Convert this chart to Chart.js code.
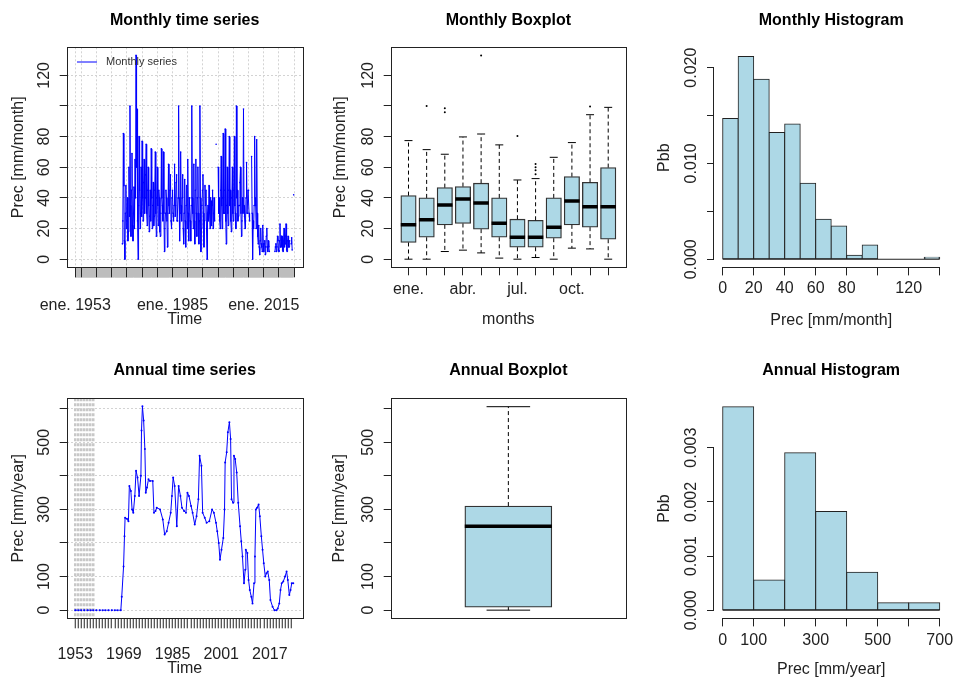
<!DOCTYPE html>
<html>
<head>
<meta charset="utf-8">
<title>Precipitation summary</title>
<script src="https://cdn.jsdelivr.net/npm/chart.js@4.4.1/dist/chart.umd.min.js"></script>
<style>
  html, body { margin: 0; padding: 0; background: #fff; }
  #page { position: relative; width: 954px; height: 677px; }
  #page canvas { position: absolute; }
</style>
</head>
<body>
<div id="page">
  <canvas id="monthlySeries" width="318" height="340" style="left:0;top:0"></canvas>
  <canvas id="monthlyBox" width="318" height="340" style="left:318px;top:0"></canvas>
  <canvas id="monthlyHist" width="318" height="340" style="left:636px;top:0"></canvas>
  <canvas id="annualSeries" width="318" height="337" style="left:0;top:340px"></canvas>
  <canvas id="annualBox" width="318" height="337" style="left:318px;top:340px"></canvas>
  <canvas id="annualHist" width="318" height="337" style="left:636px;top:340px"></canvas>
</div>
<script>
// ---------- values ----------

// monthly record, one reading every two months starting mid 1968
const monthStart = 1968.5;
const monthStep = 1 / 6;
const monthlyPrec = [
  10, 25, 82,                       // 1968 (second half)
  48, 12, 0, 30, 48, 20,            // 1969
  25, 40, 12, 18, 60, 28,
  100, 35, 15, 45, 69, 22,
  12, 30, 47, 20, 65, 40,
  133, 60, 98, 25, 0, 35,
  80, 45, 20, 30, 60, 28,
  77, 40, 25, 50, 65, 30,           // 1975
  40, 55, 75, 30, 22, 45,
  60, 35, 18, 28, 45, 25,
  72, 40, 20, 35, 50, 22,
  28, 45, 70, 30, 15, 40,
  60, 35, 22, 45, 40, 18,           // 1980
  15, 30, 72, 40, 35, 25,
  70, 30, 5, 20, 30, 45,
  40, 25, 8, 30, 62, 35,
  30, 45, 55, 25, 20, 40,
  45, 30, 25, 35, 62, 28,           // 1985
  35, 50, 55, 25, 25, 40,
  100, 40, 12, 30, 70, 35,
  25, 40, 55, 20, 10, 30,
  52, 25, 8, 35, 48, 20,
  65, 30, 12, 40, 40, 25,           // 1990
  12, 35, 100, 40, 30, 20,
  62, 25, 10, 45, 65, 30,
  15, 40, 60, 30, 10, 25,
  100, 40, 5, 20, 35, 45,
  55, 30, 8, 25, 48, 35,            // 1995
  45, 20, 0, 30, 35, 25,
  48, 30, 20, 40, 38, 22,
  35, 45, 20, 30, 40, 25,
  null, null, 75, null, null, null,
  60, 30, 40, 25, 20, 45,           // 2000
  67, 35, 20, 40, 82, 30,
  30, 45, 85, 25, 10, 35,
  60, 30, 22, 45, 80, 35,
  45, 25, 18, 40, 60, 30,
  25, 45, 80, 35, 30, 20,           // 2005
  100, 40, 45, 25, 28, 35,
  35, 50, 60, 30, 15, 25,
  40, 30, 98, 35, 28, 20,
  25, 40, 63, 30, 30, 45,
  45, 30, 25, null, null, null,     // 2010
  67, 30, 0, 25, 20, 35,
  80, 40, 35, 20, 78, 30,
  15, 10, 22, 8, 3, 12,
  20, 10, 8, 5, 22, 10,
  5, 10, 12, 3, 8, 15,              // 2015
  20, 8, 5, 12, 8, 5,
  null, null, null, null, null, null,
  null, null, null, null, 5, 8,
  10, 5, 8, 15, 12, 6,
  5, 12, 23, 8, 8, 15,              // 2020
  15, 6, 5, 12, 20, 8,
  10, 15, 23, 6, 5, 12,
  15, 8, 8, 12, null, null,
  10, 14, 6, null, null, 42         // 2024
];

const monthNames = ['ene.', 'feb.', 'mar.', 'abr.', 'may.', 'jun.', 'jul.', 'ago.', 'sep.', 'oct.', 'nov.', 'dic.'];
const boxLow  = [0, 0, 5, 5.9, 4.1, 0.7, 0, 1.1, 0, 7.2, 6.7, 0];
const boxQ1   = [10.9, 14.3, 22.4, 23.3, 19.6, 14.3, 7.8, 7.8, 13.7, 22.4, 20.9, 13];
const boxMed  = [22.4, 25.7, 35.4, 39.3, 36.7, 23.5, 14.3, 14.3, 20.9, 38, 34.3, 34.3];
const boxQ3   = [41.5, 40, 46.7, 47.4, 49.6, 40, 26.1, 25.4, 40, 53.9, 50.2, 59.8];
const boxHigh = [77.4, 71.5, 68.5, 79.8, 81.7, 74.6, 51.7, 52.6, 66.5, 76.1, 94.3, 99.1];
const boxOutliers = [[], [100], [98.5, 95.9], [], [133], [], [80.4], [55.5, 58, 60, 62.2], [], [], [99.6], []];

const monthBreaks = [0, 10, 20, 30, 40, 50, 60, 70, 80, 90, 100, 110, 120, 130, 140];
const monthDensity = [0.0147, 0.02115, 0.01878, 0.01322, 0.01412, 0.00793, 0.00417, 0.00348, 0.00042, 0.0015, 0, 0, 0, 0.00021];

const annualYears = [
  1953, 1954, 1955, 1956, 1957, 1958, 1959, 1960, 1961, 1962, 1963, 1964, 1965, 1966, 1967,
  1968.0, 1968.3, 1968.9, 1969.2, 1969.4, 1970.0, 1970.5, 1970.8, 1971.3, 1971.7,
  1972.1, 1972.6, 1973.0, 1973.5, 1974.0, 1974.6, 1974.8, 1975.1, 1975.5, 1975.9,
  1976.2, 1976.6, 1977.1, 1977.6, 1978.5, 1978.9, 1979.4, 1979.8, 1980.9, 1981.8,
  1982.4, 1983.1, 1983.7, 1984.4, 1984.8, 1985.2, 1985.7, 1986.4, 1987.0, 1987.6,
  1988.1, 1988.8, 1989.4, 1989.9, 1990.4, 1991.1, 1991.6, 1992.3, 1992.9, 1993.5,
  1993.9, 1994.5, 1994.9, 1995.6, 1996.2, 1997.1, 1998.0, 1998.6, 1999.3, 1999.7,
  2000.2, 2000.6, 2001.1, 2001.7, 2002.1, 2002.3, 2002.8, 2003.2, 2003.7, 2004.1,
  2004.4, 2004.9, 2005.2, 2005.6, 2006.1, 2006.6, 2007.2, 2007.6, 2008.0, 2008.5,
  2008.9, 2009.1, 2009.6, 2010.0, 2010.4, 2010.9, 2011.3, 2011.8, 2012.1, 2012.4,
  2012.8, 2013.3, 2013.7, 2014.2, 2014.6, 2015.0, 2015.5, 2015.9, 2016.3, 2016.8,
  2017.2, 2017.9, 2018.5, 2019.2, 2019.6, 2020.1, 2020.5, 2020.9, 2021.4, 2022.0,
  2022.5, 2022.9, 2023.4, 2023.8, 2024.2, 2024.7
];
const annualPrec = [
  0, 0, 0, 0, 0, 0, 0, 0, 0, 0, 0, 0, 0, 0, 0,
  0, 40, 130, 220, 275, 272, 265, 370, 355, 300,
  290, 340, 415, 395, 340, 400, 535, 607, 565, 480,
  350, 365, 390, 385, 385, 290, 295, 305, 300, 270,
  225, 235, 260, 290, 340, 395, 370, 250, 370, 340,
  305, 295, 290, 350, 340, 310, 290, 255, 280, 330,
  460, 430, 290, 275, 260, 265, 300, 290, 260, 235,
  200, 150, 180, 215, 300, 440, 470, 530, 560, 510,
  330, 320, 460, 450, 410, 320, 250, 205, 160, 80,
  120, 180, 170, 90, 60, 40, 20, 80, 160, 300,
  305, 315, 280, 220, 180, 140, 100, 110, 115, 90,
  30, 10, 0, 0, 5, 20, 60, 80, 85, 100,
  115, 90, 45, 60, 80, 80
];

// low whisker, Q1, median, Q3, high whisker
const annualBoxStats = [0, 9, 250, 310, 606];

const yearBreaks = [0, 100, 200, 300, 400, 500, 600, 700];
const yearDensity = [0.003755, 0.00056, 0.002907, 0.00182, 0.0007, 0.000141, 0.000141];

// tick values and which of them carry a label
const seriesXLabelYears = [1953, 1985, 2015];
const annualXLabelYears = [1953, 1969, 1985, 2001, 2017];
const monthYTicks = [0, 20, 40, 60, 80, 100, 120];
const monthYLabels = [0, 20, 40, 60, 80, 120];
const yearYTicks = [0, 100, 200, 300, 400, 500, 600];
const yearYLabels = [0, 100, 300, 500];
const monthHistXTicks = [0, 20, 40, 60, 80, 100, 120, 140];
const monthHistXLabels = [0, 20, 40, 60, 80, 120];
const monthHistYTicks = [0, 0.005, 0.01, 0.015, 0.02];
const monthHistYLabels = [0, 0.01, 0.02];
const yearHistXTicks = [0, 100, 200, 300, 400, 500, 600, 700];
const yearHistXLabels = [0, 100, 300, 500, 700];
const yearHistYTicks = [0, 0.001, 0.002, 0.003];

// ---------- look ----------
const BLUE = '#0000ff';
const BOX_FILL = '#add8e6';
const INK = '#222';
const DOTTED = '#d3d3d3';
const NONE = 'rgba(0,0,0,0)';

Chart.defaults.font.family = '"Liberation Sans", Arial, sans-serif';
Chart.defaults.font.size = 16;
Chart.defaults.color = INK;
Chart.defaults.animation = false;
Chart.defaults.responsive = false;
Chart.defaults.plugins.legend.display = false;
Chart.defaults.plugins.tooltip.enabled = false;

// box round the plot region, like R's box()
const frame = {
  id: 'frame',
  afterDraw(chart, args, opts) {
    if (!opts.show) return;
    const { ctx, chartArea: a } = chart;
    ctx.save();
    ctx.strokeStyle = INK;
    ctx.lineWidth = 1;
    ctx.strokeRect(Math.round(a.left) + 0.5, Math.round(a.top) + 0.5,
      Math.round(a.right - a.left), Math.round(a.bottom - a.top));
    ctx.restore();
  }
};

// axis lines that only run from the first to the last tick (histograms)
const axisLines = {
  id: 'axisLines',
  afterDraw(chart, args, opts) {
    if (!opts.show) return;
    const { ctx, chartArea: a, scales: { x, y } } = chart;
    const bx = Math.round(a.bottom) + 0.5;
    const ly = Math.round(a.left) - 0.5;
    ctx.save();
    ctx.strokeStyle = INK;
    ctx.lineWidth = 1;
    ctx.beginPath();
    ctx.moveTo(x.getPixelForValue(x.ticks[0].value), bx);
    ctx.lineTo(x.getPixelForValue(x.ticks[x.ticks.length - 1].value), bx);
    ctx.moveTo(ly, y.getPixelForValue(y.ticks[0].value));
    ctx.lineTo(ly, y.getPixelForValue(y.ticks[y.ticks.length - 1].value));
    ctx.stroke();
    ctx.restore();
  }
};

// small legend in the top left corner of the plot
const seriesKey = {
  id: 'seriesKey',
  afterDatasetsDraw(chart, args, opts) {
    if (!opts.show) return;
    const ds = chart.data.datasets[0];
    const { ctx, chartArea: a } = chart;
    const y = a.top + 14.7;
    ctx.save();
    ctx.strokeStyle = ds.borderColor;
    ctx.lineWidth = 1;
    ctx.beginPath();
    ctx.moveTo(a.left + 10.3, y);
    ctx.lineTo(a.left + 30.3, y);
    ctx.stroke();
    ctx.fillStyle = '#333';
    ctx.font = '11px "Liberation Sans", Arial, sans-serif';
    ctx.textBaseline = 'middle';
    ctx.fillText(ds.label, a.left + 39.3, y);
    ctx.restore();
  }
};

Chart.register(frame, axisLines, seriesKey);

// title centred over the plot region, not the whole canvas
function plotTitle(text, top, bottom) {
  return { display: true, fullSize: false, text: text, color: '#000', font: { size: 16, weight: 'bold' }, padding: { top: top, bottom: bottom } };
}

// vertical value axis with R style rotated labels
function valueAxis(o) {
  return {
    type: 'linear',
    min: o.min,
    max: o.max,
    afterBuildTicks: s => { s.ticks = o.ticks.map(v => ({ value: v })); },
    afterFit: s => { s.width = o.width; s.paddingTop = 0; s.paddingBottom = 0; },
    ticks: {
      autoSkip: false,
      minRotation: 90,
      maxRotation: 90,
      crossAlign: 'center',
      padding: o.pad,
      color: INK,
      callback: v => (o.shown.includes(v) ? (o.digits ? v.toFixed(o.digits) : String(v)) : '')
    },
    grid: { drawOnChartArea: !!o.grid, color: DOTTED, tickLength: 7, tickWidth: 1, tickColor: INK },
    border: { display: false, dash: [2, 2] },
    title: { display: true, text: o.title, color: INK, padding: { top: o.titlePad, bottom: 0 } }
  };
}

// ---------- monthly time series ----------
new Chart(document.getElementById('monthlySeries'), {
  type: 'line',
  data: {
    datasets: [{
      label: 'Monthly series',
      data: monthlyPrec.map((v, i) => ({ x: monthStart + i * monthStep, y: v })),
      borderColor: BLUE,
      backgroundColor: BLUE,
      borderWidth: 1,
      pointRadius: 0.8,
      pointBorderWidth: 0,
      spanGaps: false
    }]
  },
  options: {
    layout: { padding: { left: 0, right: 15.3, top: 0, bottom: 0 } },
    plugins: {
      title: plotTitle('Monthly time series', 11.1, 17),
      frame: { show: true },
      seriesKey: { show: true }
    },
    scales: {
      x: {
        type: 'linear',
        min: 1950.2,
        max: 2027.8,
        afterBuildTicks: s => {
          // grey monthly ticks first, black ones after so they are drawn on top
          const minor = [];
          const major = [{ value: 1953, big: true }];
          for (let m = 1; m < 862; m++) {
            const v = 1953 + m / 12;
            if (m % 12 === 0 && v % 5 === 0) major.push({ value: v, big: true });
            else minor.push({ value: v });
          }
          major.push({ value: 2025, big: true });
          s.ticks = minor.concat(major);
        },
        afterFit: s => { s.height = 72.7; s.paddingLeft = 0; s.paddingRight = 0; },
        ticks: {
          autoSkip: false,
          maxRotation: 0,
          padding: 18.5,
          color: INK,
          callback: (v, i, t) => (t[i].big && seriesXLabelYears.includes(v) ? 'ene. ' + v : '')
        },
        grid: {
          color: c => (c.tick && c.tick.big ? DOTTED : NONE),
          tickColor: c => (c.tick && c.tick.big ? INK : '#bdbdbd'),
          tickWidth: 1,
          tickLength: 10
        },
        border: { display: false, dash: [2, 2] },
        title: { display: true, text: 'Time', color: INK, padding: { top: 0, bottom: 11 } }
      },
      y: valueAxis({ min: -5.3, max: 138.3, ticks: monthYTicks, shown: monthYLabels, width: 66.7, pad: 1.7,
                     title: 'Prec [mm/month]', titlePad: 8.7, grid: true })
    }
  }
});

// ---------- monthly boxplot ----------
const monthPos = monthNames.map((n, i) => i + 1);
new Chart(document.getElementById('monthlyBox'), {
  type: 'bar',
  data: {
    datasets: [
      {
        type: 'line', label: 'median', order: 1,
        data: monthPos.flatMap((x, i) => [{ x: x - 0.425, y: boxMed[i] }, { x: x + 0.425, y: boxMed[i] }, { x: x, y: null }]),
        borderColor: '#000', borderWidth: 3.5, pointRadius: 0, spanGaps: false
      },
      {
        type: 'line', label: 'caps', order: 2,
        data: monthPos.flatMap((x, i) => [
          { x: x - 0.22, y: boxHigh[i] }, { x: x + 0.22, y: boxHigh[i] }, { x: x, y: null },
          { x: x - 0.22, y: boxLow[i] }, { x: x + 0.22, y: boxLow[i] }, { x: x, y: null }]),
        borderColor: '#000', borderWidth: 1, pointRadius: 0, spanGaps: false
      },
      {
        type: 'scatter', label: 'outliers', order: 3,
        data: monthPos.flatMap((x, i) => boxOutliers[i].map(v => ({ x: x, y: v }))),
        backgroundColor: '#000', borderColor: '#000', pointRadius: 1, pointBorderWidth: 0
      },
      {
        type: 'line', label: 'whiskers', order: 4,
        data: monthPos.flatMap((x, i) => [
          { x: x, y: boxQ3[i] }, { x: x, y: boxHigh[i] }, { x: x, y: null },
          { x: x, y: boxQ1[i] }, { x: x, y: boxLow[i] }, { x: x, y: null }]),
        borderColor: '#000', borderWidth: 1, borderDash: [4, 3], pointRadius: 0, spanGaps: false
      },
      {
        type: 'bar', label: 'boxes', order: 5,
        data: monthPos.map((x, i) => ({ x: x, y: [boxQ1[i], boxQ3[i]] })),
        backgroundColor: BOX_FILL, borderColor: '#333', borderWidth: 1.3, borderSkipped: false,
        barThickness: 15.4
      }
    ]
  },
  options: {
    layout: { padding: { left: 0, right: 10, top: 0, bottom: 0 } },
    plugins: {
      title: plotTitle('Monthly Boxplot', 11.1, 17),
      frame: { show: true }
    },
    scales: {
      x: {
        type: 'linear',
        min: 0.02,
        max: 12.98,
        offset: false,
        afterBuildTicks: s => { s.ticks = monthPos.map(v => ({ value: v })); },
        afterFit: s => { s.height = 72.7; s.paddingLeft = 0; s.paddingRight = 0; },
        ticks: { autoSkip: false, maxRotation: 0, padding: 5, color: INK, callback: (v, i) => (i % 3 === 0 ? monthNames[i] : '') },
        grid: { drawOnChartArea: false, offset: false, tickLength: 8, tickWidth: 1, tickColor: INK },
        border: { display: false },
        title: { display: true, text: 'months', color: INK, padding: { top: 0, bottom: 11.1 } }
      },
      y: valueAxis({ min: -5.3, max: 138.3, ticks: monthYTicks, shown: monthYLabels, width: 72.7, pad: 2.1,
                     title: 'Prec [mm/month]', titlePad: 13.2 })
    }
  }
});

// ---------- monthly histogram ----------
new Chart(document.getElementById('monthlyHist'), {
  type: 'bar',
  data: {
    datasets: [
      {
        type: 'line', label: 'base', order: 1,
        data: [{ x: monthBreaks[0], y: 0 }, { x: monthBreaks[monthBreaks.length - 1], y: 0 }],
        borderColor: INK, borderWidth: 1, pointRadius: 0
      },
      {
        type: 'bar', label: 'density', order: 2,
        data: monthDensity.map((d, i) => ({ x: (monthBreaks[i] + monthBreaks[i + 1]) / 2, y: d })),
        backgroundColor: BOX_FILL, borderColor: INK, borderWidth: 1, borderSkipped: false,
        barPercentage: 1, categoryPercentage: 1, inflateAmount: 0.5
      }
    ]
  },
  options: {
    layout: { padding: { left: 0, right: 5.6, top: 0, bottom: 0 } },
    plugins: {
      title: plotTitle('Monthly Histogram', 11.1, 17.7),
      axisLines: { show: true }
    },
    scales: {
      x: {
        type: 'linear',
        min: -5.6,
        max: 145.6,
        offset: false,
        afterBuildTicks: s => { s.ticks = monthHistXTicks.map(v => ({ value: v })); },
        afterFit: s => { s.height = 72.6; s.paddingLeft = 0; s.paddingRight = 0; },
        ticks: { autoSkip: false, maxRotation: 0, padding: 3.2, color: INK, callback: v => (monthHistXLabels.includes(v) ? String(v) : '') },
        grid: { drawOnChartArea: false, offset: false, tickLength: 8, tickWidth: 1, tickColor: INK },
        border: { display: false },
        title: { display: true, text: 'Prec [mm/month]', color: INK, padding: { top: 0, bottom: 10.1 } }
      },
      y: valueAxis({ min: -0.00085, max: 0.02205, ticks: monthHistYTicks, shown: monthHistYLabels, digits: 3,
                     width: 78, pad: -4.7, title: 'Pbb', titlePad: 19.4 })
    }
  }
});

// ---------- annual time series ----------
new Chart(document.getElementById('annualSeries'), {
  type: 'line',
  data: {
    datasets: [{
      label: 'Annual series',
      data: annualYears.map((yr, i) => ({ x: yr, y: annualPrec[i] })),
      borderColor: BLUE,
      backgroundColor: BLUE,
      borderWidth: 1,
      pointRadius: 1,
      pointBorderWidth: 0,
      segment: { borderDash: c => (c.p1.parsed.x <= 1968 ? [2, 2] : undefined) }
    }]
  },
  options: {
    layout: { padding: { left: 0, right: 15.3, top: 0, bottom: 0 } },
    plugins: {
      title: plotTitle('Annual time series', 21.1, 18),
      frame: { show: true }
    },
    scales: {
      x: {
        type: 'linear',
        min: 1950.2,
        max: 2027.8,
        afterBuildTicks: s => {
          const t = [];
          for (let yr = 1953; yr <= 2024; yr++) t.push({ value: yr });
          s.ticks = t;
        },
        afterFit: s => { s.height = 58.7; s.paddingLeft = 0; s.paddingRight = 0; },
        ticks: { autoSkip: false, maxRotation: 0, padding: 16.3, color: INK, callback: v => (annualXLabelYears.includes(v) ? String(v) : '') },
        grid: {
          color: c => (c.tick && c.tick.value <= 1959 ? '#c8c8c8' : NONE),
          lineWidth: 2.5,
          tickColor: INK,
          tickWidth: 1,
          tickLength: 10
        },
        border: { display: false, dash: [3, 2] },
        title: { display: true, text: 'Time', color: INK, padding: { top: 0, bottom: -0.9 } }
      },
      y: valueAxis({ min: -24.3, max: 631, ticks: yearYTicks, shown: yearYLabels, width: 66.7, pad: 1.7,
                     title: 'Prec [mm/year]', titlePad: 8.7, grid: true })
    }
  }
});

// ---------- annual boxplot ----------
const [aLow, aQ1, aMed, aQ3, aHigh] = annualBoxStats;
new Chart(document.getElementById('annualBox'), {
  type: 'bar',
  data: {
    datasets: [
      {
        type: 'line', label: 'median', order: 1,
        data: [{ x: 0.8, y: aMed }, { x: 1.2, y: aMed }],
        borderColor: '#000', borderWidth: 3.5, pointRadius: 0
      },
      {
        type: 'line', label: 'caps', order: 2,
        data: [{ x: 0.9, y: aHigh }, { x: 1.1, y: aHigh }, { x: 1, y: null }, { x: 0.9, y: aLow }, { x: 1.1, y: aLow }],
        borderColor: '#000', borderWidth: 1, pointRadius: 0, spanGaps: false
      },
      {
        type: 'line', label: 'whiskers', order: 3,
        data: [{ x: 1, y: aQ3 }, { x: 1, y: aHigh }, { x: 1, y: null }, { x: 1, y: aQ1 }, { x: 1, y: aLow }],
        borderColor: '#000', borderWidth: 1, borderDash: [4, 3], pointRadius: 0, spanGaps: false
      },
      {
        type: 'bar', label: 'box', order: 4,
        data: [{ x: 1, y: [aQ1, aQ3] }],
        backgroundColor: BOX_FILL, borderColor: '#333', borderWidth: 1.3, borderSkipped: false,
        barThickness: 87
      }
    ]
  },
  options: {
    layout: { padding: { left: 0, right: 10, top: 0, bottom: 58.7 } },
    plugins: {
      title: plotTitle('Annual Boxplot', 21.1, 18),
      frame: { show: true }
    },
    scales: {
      x: { type: 'linear', min: 0.46, max: 1.54, offset: false, display: false },
      y: valueAxis({ min: -24.3, max: 631, ticks: yearYTicks, shown: yearYLabels, width: 72.7, pad: 2.1,
                     title: 'Prec [mm/year]', titlePad: 12.4 })
    }
  }
});

// ---------- annual histogram ----------
new Chart(document.getElementById('annualHist'), {
  type: 'bar',
  data: {
    datasets: [
      {
        type: 'line', label: 'base', order: 1,
        data: [{ x: yearBreaks[0], y: 0 }, { x: yearBreaks[yearBreaks.length - 1], y: 0 }],
        borderColor: INK, borderWidth: 1, pointRadius: 0
      },
      {
        type: 'bar', label: 'density', order: 2,
        data: yearDensity.map((d, i) => ({ x: (yearBreaks[i] + yearBreaks[i + 1]) / 2, y: d })),
        backgroundColor: BOX_FILL, borderColor: INK, borderWidth: 1, borderSkipped: false,
        barPercentage: 1, categoryPercentage: 1, inflateAmount: 0.5
      }
    ]
  },
  options: {
    layout: { padding: { left: 0, right: 5.6, top: 0, bottom: 0 } },
    plugins: {
      title: plotTitle('Annual Histogram', 21.1, 18.3),
      axisLines: { show: true }
    },
    scales: {
      x: {
        type: 'linear',
        min: -28,
        max: 728,
        offset: false,
        afterBuildTicks: s => { s.ticks = yearHistXTicks.map(v => ({ value: v })); },
        afterFit: s => { s.height = 58.6; s.paddingLeft = 0; s.paddingRight = 0; },
        ticks: { autoSkip: false, maxRotation: 0, padding: 4.2, color: INK, callback: v => (yearHistXLabels.includes(v) ? String(v) : '') },
        grid: { drawOnChartArea: false, offset: false, tickLength: 8, tickWidth: 1, tickColor: INK },
        border: { display: false },
        title: { display: true, text: 'Prec [mm/year]', color: INK, padding: { top: 0, bottom: -1.9 } }
      },
      y: valueAxis({ min: -0.00015, max: 0.003905, ticks: yearHistYTicks, shown: yearHistYTicks, digits: 3,
                     width: 78, pad: -4.7, title: 'Pbb', titlePad: 19.4 })
    }
  }
});
</script>
</body>
</html>
